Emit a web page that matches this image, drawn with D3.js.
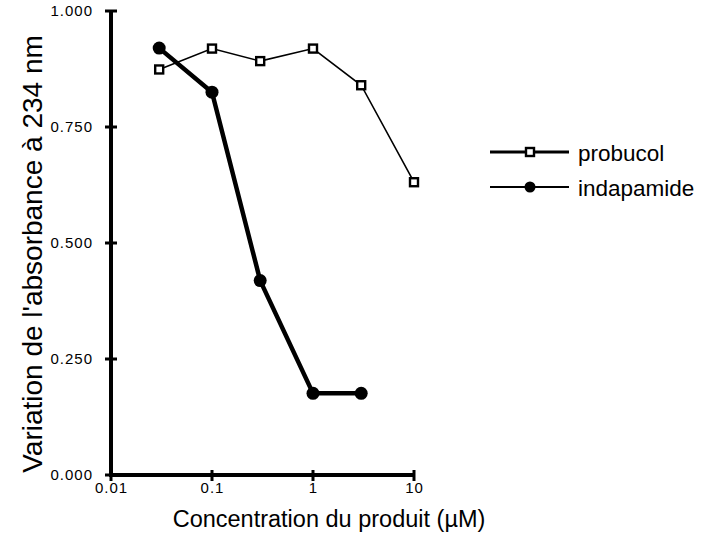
<!DOCTYPE html>
<html>
<head>
<meta charset="utf-8">
<script src="https://cdn.jsdelivr.net/npm/d3@7"></script>
<style>
  html, body { margin: 0; padding: 0; background: #fff; }
  svg { display: block; font-family: "Liberation Sans", Arial, Helvetica, sans-serif; }
</style>
</head>
<body>
<svg id="chart" width="706" height="538"></svg>
<script>
// ---- data ----
const concentrations = [0.03, 0.1, 0.3, 1, 3, 10];
const probucolValues = [0.874, 0.919, 0.892, 0.919, 0.840, 0.631];
const indapamideConc = [0.03, 0.1, 0.3, 1, 3];
const indapamideValues = [0.920, 0.825, 0.419, 0.176, 0.176];
const xTickValues = [0.01, 0.1, 1, 10];
const xTickLabels = ["0.01", "0.1", "1", "10"];
const yTickValues = [0, 0.25, 0.5, 0.75, 1];
const yTickLabels = ["0.000", "0.250", "0.500", "0.750", "1.000"];
const seriesNames = ["probucol", "indapamide"];
const xTitle = "Concentration du produit (\u00b5M)";
const yTitle = "Variation de l'absorbance \u00e0 234 nm";

const svg = d3.select("#chart");
const x = d3.scaleLog().domain([0.01, 10]).range([111, 414]);
const y = d3.scaleLinear().domain([0, 1]).range([475, 11]);

// axes
const xAxis = d3.axisBottom(x).tickValues(xTickValues)
  .tickFormat((d, i) => xTickLabels[i]).tickSize(0).tickPadding(0);
const gx = svg.append("g").attr("transform", `translate(0,${y(0)})`).call(xAxis);
gx.select(".domain").remove();
gx.selectAll(".tick text").attr("y", 13).attr("dy", "0.32em")
  .attr("font-size", 15).attr("letter-spacing", 1).attr("fill", "#000")
  .attr("font-family", "'Liberation Sans', Arial, sans-serif");

const yAxis = d3.axisLeft(y).tickValues(yTickValues)
  .tickFormat((d, i) => yTickLabels[i]).tickSize(0).tickPadding(0);
const gy = svg.append("g").attr("transform", `translate(${x(0.01)},0)`).call(yAxis);
gy.select(".domain").remove();
gy.selectAll(".tick text").attr("x", -18).attr("dy", "0.32em")
  .attr("font-size", 15).attr("letter-spacing", 1).attr("fill", "#000")
  .attr("font-family", "'Liberation Sans', Arial, sans-serif");

// axis lines
svg.append("line").attr("x1", x(0.01)).attr("x2", x(10)).attr("y1", y(0)).attr("y2", y(0))
  .attr("stroke", "#000").attr("stroke-width", 4);
svg.append("line").attr("x1", x(0.01)).attr("x2", x(0.01)).attr("y1", y(0) + 2).attr("y2", y(1))
  .attr("stroke", "#000").attr("stroke-width", 4);
// cross ticks
svg.selectAll(".xt").data(xTickValues).enter().append("line")
  .attr("x1", d => x(d)).attr("x2", d => x(d)).attr("y1", y(0) - 5).attr("y2", y(0) + 6)
  .attr("stroke", "#000").attr("stroke-width", 3);
svg.selectAll(".yt").data(yTickValues).enter().append("line")
  .attr("x1", x(0.01) - 6).attr("x2", x(0.01) + 6).attr("y1", d => y(d)).attr("y2", d => y(d))
  .attr("stroke", "#000").attr("stroke-width", 3);

// titles
svg.append("text").attr("x", 329).attr("y", 527).attr("text-anchor", "middle")
  .attr("font-size", 23.5).attr("fill", "#000").text(xTitle);
svg.append("text").attr("transform", "translate(42,254) rotate(-90)").attr("text-anchor", "middle")
  .attr("font-size", 28).attr("fill", "#000").text(yTitle);

// series
const probData = concentrations.map((c, i) => ({ c, v: probucolValues[i] }));
const indaData = indapamideConc.map((c, i) => ({ c, v: indapamideValues[i] }));
const line = d3.line().x(d => x(d.c)).y(d => y(d.v));

svg.append("path").datum(probData).attr("d", line).attr("fill", "none")
  .attr("stroke", "#000").attr("stroke-width", 1.6);
svg.append("path").datum(indaData).attr("d", line).attr("fill", "none")
  .attr("stroke", "#000").attr("stroke-width", 4.5).attr("stroke-linejoin", "round");

svg.selectAll(".sq").data(probData).enter().append("rect")
  .attr("x", d => x(d.c) - 4).attr("y", d => y(d.v) - 4).attr("width", 8).attr("height", 8)
  .attr("fill", "#fff").attr("stroke", "#000").attr("stroke-width", 2.4);
svg.selectAll(".ci").data(indaData).enter().append("circle")
  .attr("cx", d => x(d.c)).attr("cy", d => y(d.v)).attr("r", 6.5).attr("fill", "#000");

// legend
const legendRows = [
  { name: seriesNames[0], y: 152, lw: 3, marker: "square" },
  { name: seriesNames[1], y: 187, lw: 2, marker: "circle" }
];
const lg = svg.append("g");
legendRows.forEach(r => {
  lg.append("line").attr("x1", 490).attr("x2", 569).attr("y1", r.y).attr("y2", r.y)
    .attr("stroke", "#000").attr("stroke-width", r.lw);
  if (r.marker === "square") {
    lg.append("rect").attr("x", 526).attr("y", r.y - 4).attr("width", 8).attr("height", 8)
      .attr("fill", "#fff").attr("stroke", "#000").attr("stroke-width", 2.4);
  } else {
    lg.append("circle").attr("cx", 530).attr("cy", r.y).attr("r", 5.5).attr("fill", "#000");
  }
  lg.append("text").attr("x", 578).attr("y", r.y + 9).attr("font-size", 22.5)
    .attr("fill", "#000").text(r.name);
});
</script>
</body>
</html>
